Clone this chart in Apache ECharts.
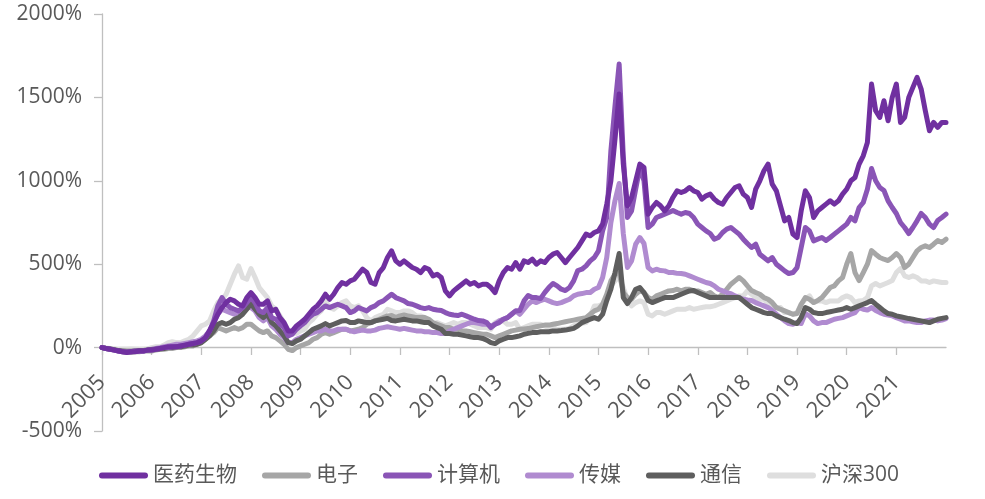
<!DOCTYPE html>
<html>
<head>
<meta charset="utf-8">
<script src="https://cdn.jsdelivr.net/npm/echarts@6/dist/echarts.min.js"></script>
<style>
html,body{margin:0;padding:0;background:#fff;}
#chart{width:985px;height:499px;}
</style>
</head>
<body>
<div id="chart"></div>
<script>
// Year tick labels (x axis); data are monthly, Jan 2005 .. Dec 2021 plus a closing point
const years = ['2005','2006','2007','2008','2009','2010','2011','2012','2013','2014','2015','2016','2017','2018','2019','2020','2021'];
const seriesNames = ['医药生物','电子','计算机','传媒','通信','沪深300'];

// cumulative return, %
const yiyao = [
0,-5,-10,-15,-20,-25,-30,-25,-25,-20,-20,-15,
-15,-10,-5,0,5,5,5,10,15,20,25,30,
40,60,100,150,200,240,270,290,280,260,250,300,
330,300,260,260,280,220,230,180,150,100,100,130,
150,170,200,230,250,280,320,290,320,360,390,380,
400,410,440,470,450,390,380,450,480,540,580,520,
500,520,500,480,470,450,480,470,430,440,420,340,
310,340,360,380,400,380,390,370,380,380,360,330,
400,450,480,470,510,470,520,510,530,500,520,510,
540,560,570,540,510,540,570,600,640,680,670,690,
700,740,860,1000,1250,1520,1100,850,900,1000,1100,1080,
800,840,870,850,820,850,900,940,930,940,960,940,
930,890,910,920,890,870,860,900,930,960,970,920,
900,840,950,1000,1060,1100,980,940,850,760,780,680,
660,820,940,900,780,820,840,860,880,860,880,920,
950,1000,1020,1100,1150,1230,1580,1420,1380,1480,1360,1500,
1580,1350,1380,1500,1560,1620,1550,1420,1300,1350,1320,1350,
1350];

const dianzi = [
0,-5,-10,-15,-20,-25,-30,-30,-25,-25,-20,-20,
-20,-15,-10,-10,-5,-5,0,0,5,10,10,20,
30,50,70,90,120,110,100,110,120,110,120,140,
140,120,100,90,100,70,60,40,20,-10,-18,0,
10,20,30,50,60,80,90,80,90,100,110,110,
100,105,110,120,140,150,160,170,180,190,192,180,
190,195,190,185,180,180,180,170,150,140,130,120,
120,110,110,100,100,95,90,85,80,80,70,60,
70,80,90,100,105,110,112,114,120,125,130,135,
135,140,144,150,155,160,165,170,175,180,200,220,
230,260,320,400,440,450,330,300,290,320,340,330,
300,290,310,320,330,340,342,350,340,350,350,340,
340,330,320,330,310,300,320,350,380,400,420,400,
370,342,330,320,300,290,270,240,230,220,210,200,
204,260,300,290,270,282,300,330,360,370,400,420,
500,564,450,402,450,500,582,560,540,530,522,540,
564,540,480,500,540,580,600,610,600,620,642,630,
650];

const jisuanji = [
0,-5,-10,-15,-20,-25,-25,-25,-20,-20,-20,-15,
-15,-10,-5,0,0,5,5,10,15,20,25,30,
40,60,100,160,250,300,260,240,230,220,240,270,
300,270,220,210,240,180,170,140,120,70,80,110,
130,150,180,200,210,230,250,240,250,260,250,240,
210,220,240,230,220,240,250,270,280,300,320,300,
290,280,264,260,250,240,234,240,230,225,222,210,
200,195,192,200,190,180,170,162,160,150,120,140,
150,170,180,200,220,222,280,312,300,300,294,330,
360,384,370,350,342,360,400,462,470,490,520,540,
580,700,780,1180,1450,1700,1150,780,820,950,1080,1000,
720,740,780,790,800,810,822,810,800,810,804,780,
740,720,700,684,650,660,690,710,720,700,680,650,
624,600,620,560,540,520,540,500,480,460,444,450,
480,600,720,700,640,650,660,642,660,680,700,720,
740,780,760,840,870,950,1074,1000,960,942,880,840,
804,750,720,684,720,760,804,780,740,720,762,780,
800];

const chuanmei = [
0,-5,-10,-15,-20,-25,-25,-25,-20,-20,-20,-15,
-10,-5,0,5,10,15,20,20,25,30,35,40,
50,70,100,150,200,230,220,210,200,210,220,240,
240,220,180,160,180,130,110,80,60,30,30,50,
60,70,80,90,100,100,110,100,100,110,110,110,
100,95,100,105,100,100,105,115,120,125,120,115,
110,115,110,105,100,100,95,95,90,90,84,85,
100,110,120,130,140,150,150,145,140,140,130,140,
160,170,180,200,220,200,230,260,280,270,282,290,
280,270,264,270,280,290,310,320,324,330,330,350,
360,420,540,750,882,984,684,480,520,620,660,624,
480,460,470,462,460,450,450,445,444,440,430,420,
410,400,390,384,370,350,340,330,324,310,300,290,
285,282,270,260,250,240,222,200,180,160,144,140,
150,144,204,190,160,144,150,150,160,170,175,180,
190,200,210,240,230,225,240,222,210,200,195,190,
180,170,160,160,155,150,150,160,165,165,160,165,
174];

const tongxin = [
0,-5,-8,-12,-18,-20,-22,-22,-20,-18,-18,-15,
-12,-10,-8,-5,0,0,5,5,10,15,15,20,
30,50,70,100,140,150,140,150,170,180,200,230,
264,230,200,180,200,150,130,100,70,30,24,40,
50,70,90,110,120,130,144,130,140,150,160,162,
150,150,160,155,150,150,160,165,170,175,162,160,
165,170,165,160,160,155,150,150,130,120,110,84,
84,80,80,75,70,65,60,60,55,45,30,24,
40,50,60,60,65,70,80,85,90,90,95,95,
95,100,100,102,105,110,115,130,150,160,170,180,
170,200,282,350,450,564,300,264,300,350,360,330,
282,270,280,290,300,300,300,310,320,330,340,342,
330,320,310,300,300,300,300,300,300,300,300,280,
260,240,230,220,210,204,204,190,180,170,162,150,
144,180,240,230,210,205,204,210,215,220,225,230,
240,230,240,250,260,270,282,260,240,220,204,200,
190,185,180,174,170,165,160,155,150,160,170,175,
180];

const hs300 = [
0,-2,-5,-8,-12,-10,-10,-8,-10,-12,-10,-8,
0,5,5,15,30,35,30,30,40,50,70,100,
130,140,160,220,270,290,320,380,440,490,420,410,
474,420,360,330,300,250,230,190,150,100,90,85,
100,110,150,170,200,220,280,240,230,250,270,280,
250,240,250,220,180,160,180,190,200,230,220,210,
210,220,220,210,190,190,180,160,140,150,140,130,
140,150,140,150,150,140,130,120,120,120,110,150,
160,160,140,140,150,110,120,130,140,140,140,130,
120,120,110,110,110,115,130,140,145,150,190,250,
250,260,300,370,400,430,360,290,250,270,280,270,
200,190,210,210,200,210,220,230,230,230,240,230,
235,240,245,245,250,260,270,280,290,300,310,310,
340,320,300,290,290,260,250,240,240,210,210,200,
210,260,290,310,270,280,280,270,280,280,280,300,
310,300,270,280,282,300,370,384,370,380,390,402,
450,474,430,420,430,420,400,400,390,400,395,390,
390];

const colors = {
  '医药生物':'#7030A0',
  '电子':'#A6A6A6',
  '计算机':'#8A55B6',
  '传媒':'#B08BD0',
  '通信':'#5E5E5E',
  '沪深300':'#DEDEDE'
};
const dataMap = {'医药生物':yiyao,'电子':dianzi,'计算机':jisuanji,'传媒':chuanmei,'通信':tongxin,'沪深300':hs300};

// monthly categories built from the year labels
const categories = [];
years.forEach(y => { for (let m = 1; m <= 12; m++) categories.push(y + '-' + (m < 10 ? '0' + m : m)); });
categories.push('2022-01');

const drawOrder = ['沪深300','电子','传媒','通信','计算机','医药生物'];
const FONT = "'Open Sans','Noto Sans CJK SC',sans-serif";
const isYearStart = (i) => i % 12 === 0 && i < categories.length - 1;
const capsule = 'path://M3,0 L47,0 A3,3 0 0 1 47,6 L3,6 A3,3 0 0 1 3,0 Z';

const chart = echarts.init(document.getElementById('chart'), null, {renderer:'canvas'});
chart.setOption({
  animation:false,
  backgroundColor:'#ffffff',
  grid:{left:102, right:39, top:14, bottom:68, containLabel:false},
  legend:{
    data:seriesNames.map(n => ({name:n, icon:capsule})),
    bottom:8, left:94,
    itemWidth:49, itemHeight:6, itemGap:25,
    textStyle:{color:'#595959', fontSize:21, fontFamily:FONT}
  },
  xAxis:{
    type:'category',
    data:categories,
    boundaryGap:false,
    offset:-84,
    axisLine:{onZero:false, lineStyle:{color:'#BFBFBF', width:1.3}},
    axisTick:{show:true, length:8, interval:isYearStart, lineStyle:{color:'#BFBFBF', width:1.3}},
    axisLabel:{
      interval:isYearStart, rotate:45, margin:32,
      color:'#595959', fontSize:22, fontFamily:FONT,
      formatter:(v)=>v.slice(0,4)
    },
    splitLine:{show:false}
  },
  yAxis:{
    type:'value', min:-500, max:2000, interval:500,
    axisLine:{show:true, lineStyle:{color:'#BFBFBF', width:1.3}},
    axisTick:{show:true, length:8, lineStyle:{color:'#BFBFBF', width:1.3}},
    axisLabel:{color:'#595959', fontSize:21, fontFamily:FONT, margin:20, formatter:(v)=>v + '%'},
    splitLine:{show:false}
  },
  series: drawOrder.map(name => ({
    name:name,
    type:'line',
    data:dataMap[name],
    showSymbol:false,
    symbol:'none',
    lineStyle:{color:colors[name], width:5, cap:'round', join:'round'},
    itemStyle:{color:colors[name]},
    emphasis:{disabled:true}
  }))
});
</script>
</body>
</html>
